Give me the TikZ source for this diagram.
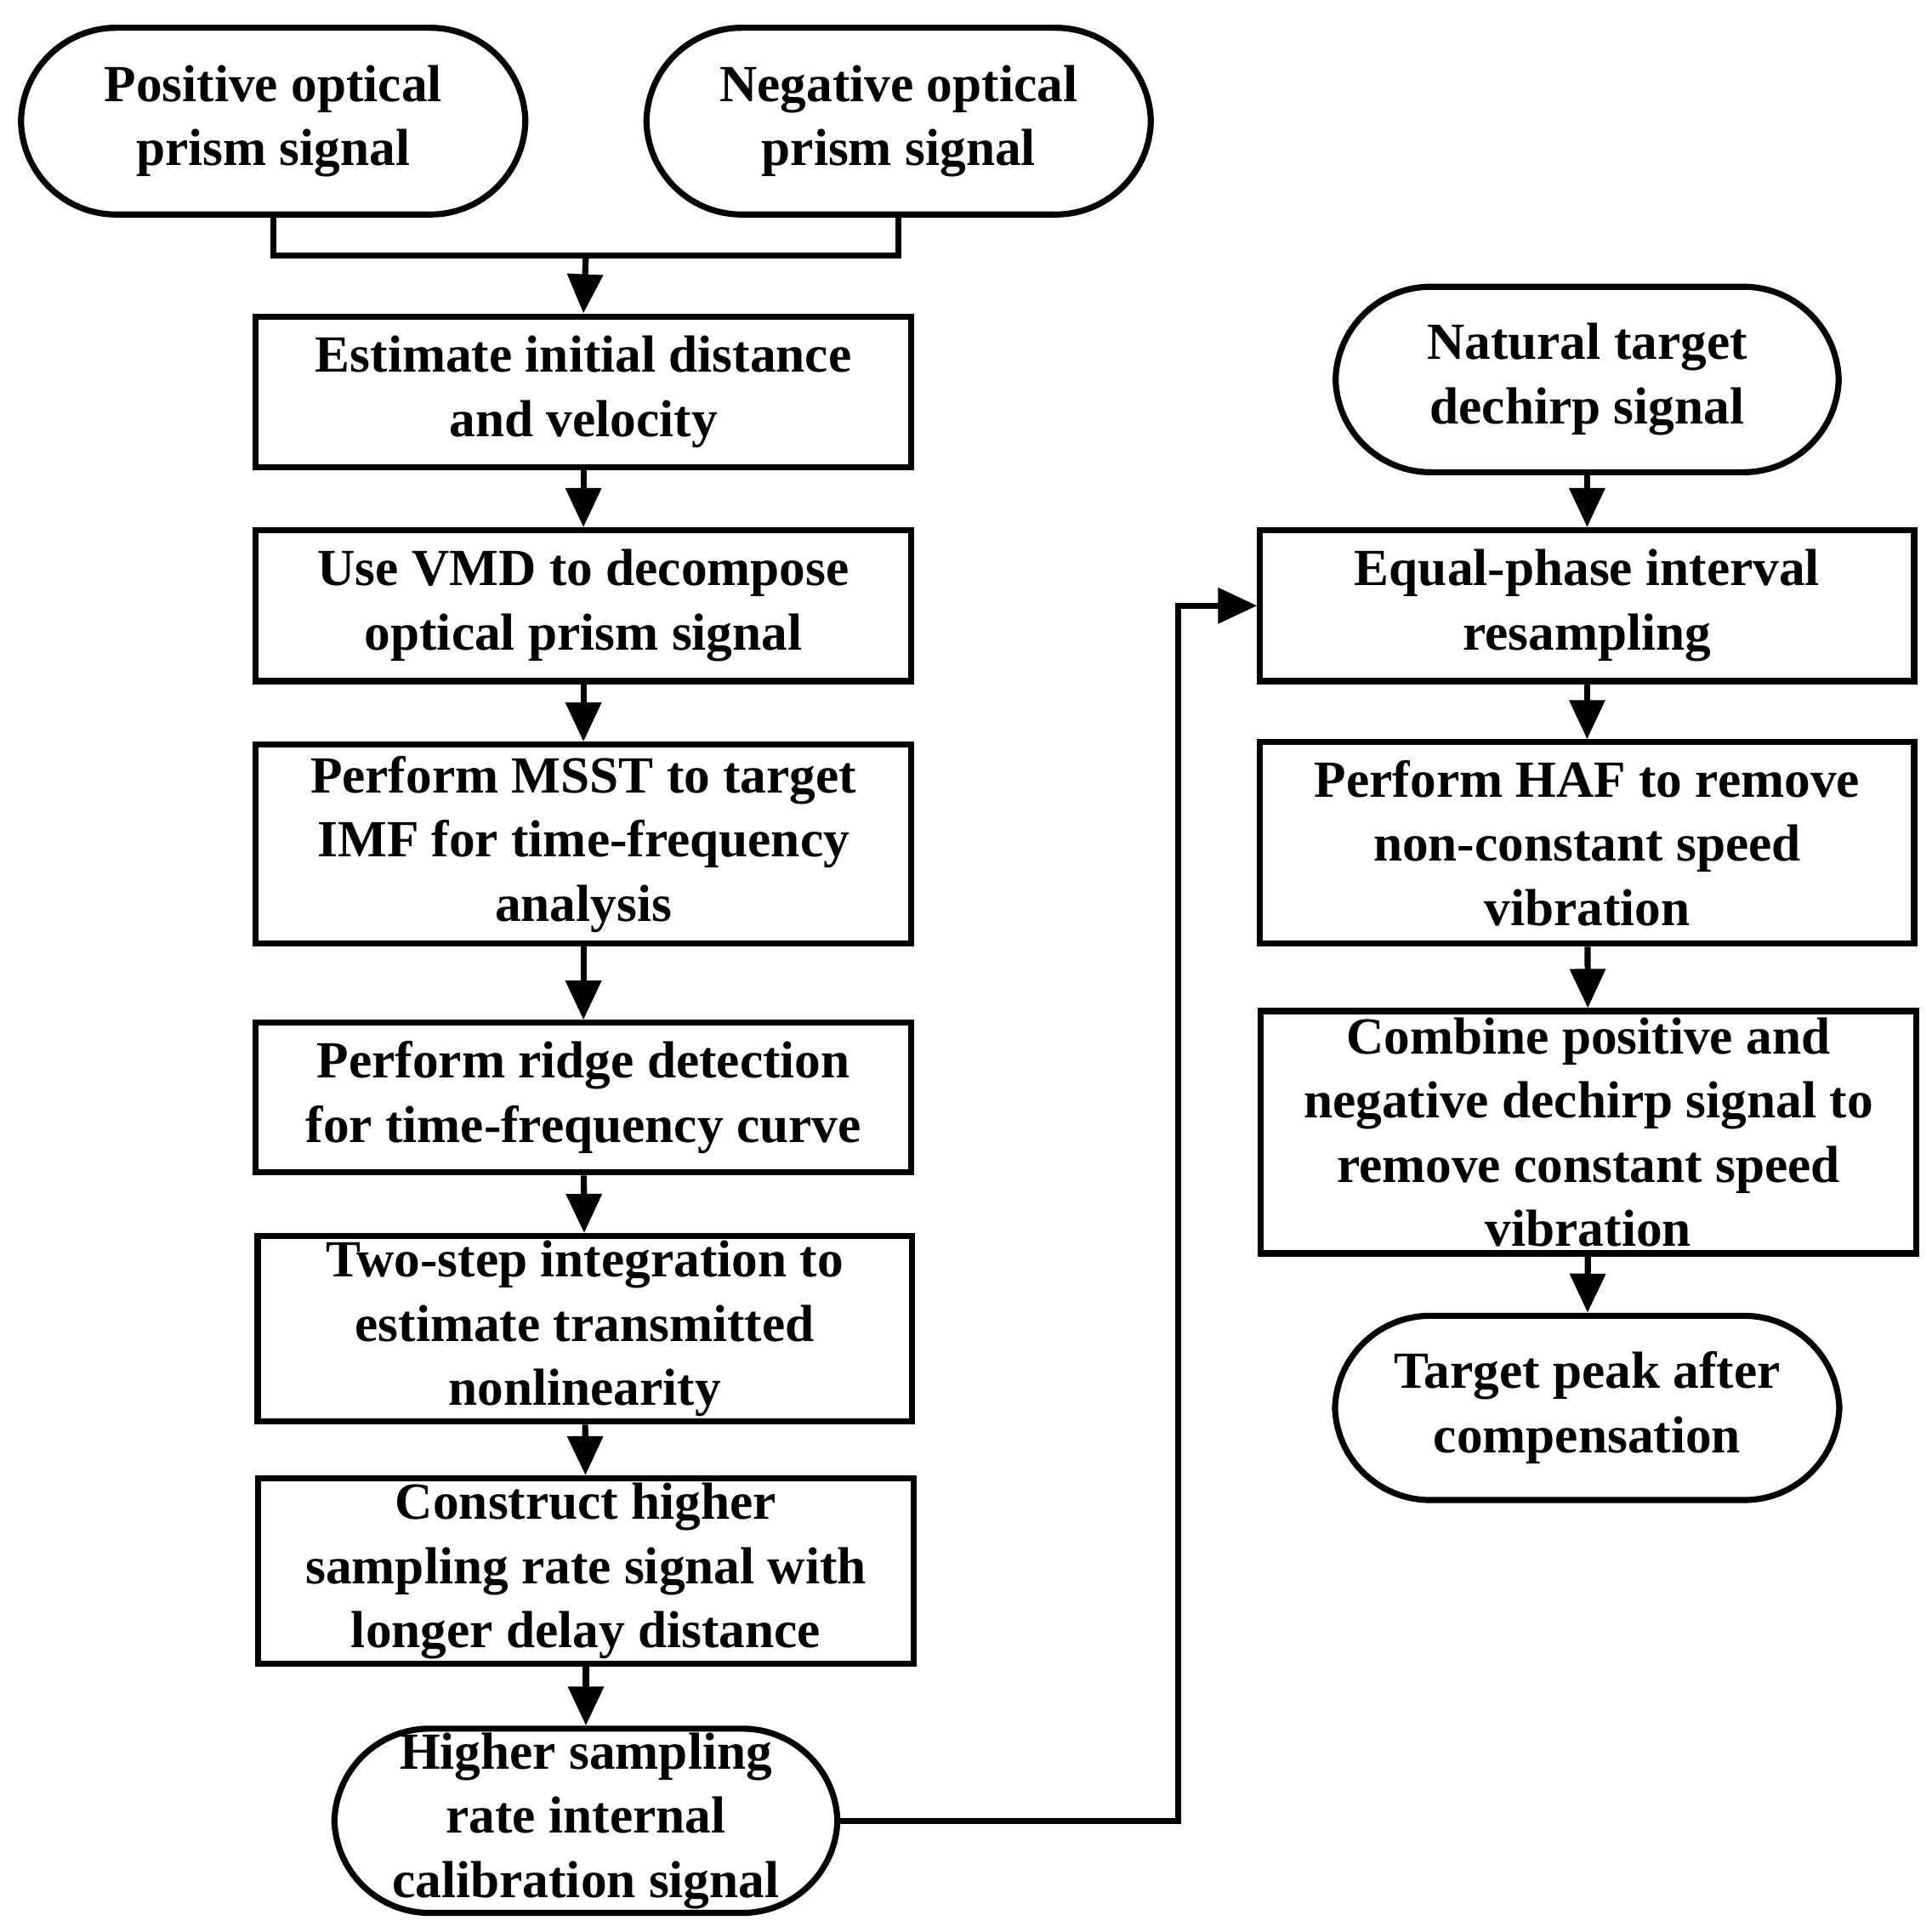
\documentclass[tikz,border=0pt]{standalone}
\usepackage{fontspec}
\setmainfont{Liberation Serif}
\usetikzlibrary{arrows.meta}
\begin{document}
\begin{tikzpicture}[x=0.01cm,y=-0.01cm,line width=1.4pt,
  txt/.style={align=center,font=\fontsize{12}{14.8}\selectfont\bfseries},
  box/.style={draw,txt,inner sep=0pt},
  term/.style={draw,txt,rounded corners=0.77cm,inner sep=0pt},
  arr/.style={-{Triangle[length=9pt,width=8pt]}}]
\useasboundingbox (0,0) rectangle (1563,1563);
\newcommand\bx[6]{\node[#1,minimum width=#4*0.01cm-1.4pt,minimum height=#5*0.01cm-1.4pt] (#2) at (#3) {#6};}
\bx{term}{pos}{221,98}{413}{156}{Positive optical\\prism signal}
\bx{term}{neg}{727,98}{413}{156}{Negative optical\\prism signal}
\bx{box}{b1}{472,317}{535}{127}{Estimate initial distance\\and velocity}
\bx{box}{b2}{472,490}{535}{127}{Use VMD to decompose\\optical prism signal}
\bx{box}{b3}{472,683}{535}{166}{Perform MSST to target\\IMF for time-frequency\\analysis}
\bx{box}{b4}{472,888}{535}{126}{Perform ridge detection\\for time-frequency curve}
\bx{box}{b5}{473,1075}{534}{155}{Two-step integration to\\estimate transmitted\\nonlinearity}
\bx{box}{b6}{474,1271}{535}{155}{Construct higher\\sampling rate signal with\\longer delay distance}
\bx{term}{hi}{474,1473}{412}{154}{Higher sampling\\rate internal\\calibration signal}
\bx{term}{nat}{1284,307}{412}{155}{Natural target\\dechirp signal}
\bx{box}{r1}{1284,490}{534}{127}{Equal-phase interval\\resampling}
\bx{box}{r2}{1284,682}{534}{168}{Perform HAF to remove\\non-constant speed\\vibration}
\bx{box}{r3}{1285,916}{535}{201}{Combine positive and\\negative dechirp signal to\\remove constant speed\\vibration}
\bx{term}{tp}{1284,1139}{413}{154}{Target peak after\\compensation}
\coordinate (m) at (474,207);
\draw (pos.south) |- (m) -| (neg.south);
\draw[arr] (m) -- (b1.north);
\draw[arr] (b1) -- (b2);
\draw[arr] (b2) -- (b3);
\draw[arr] (b3) -- (b4);
\draw[arr] (b4) -- (b5);
\draw[arr] (b5) -- (b6);
\draw[arr] (b6) -- (hi);
\draw[arr] (nat) -- (r1);
\draw[arr] (r1) -- (r2);
\draw[arr] (r2) -- (r3);
\draw[arr] (r3) -- (tp);
\coordinate (c) at (953,1473);
\draw[arr] (hi.east) -- (c) |- (r1.west);
\end{tikzpicture}
\end{document}
